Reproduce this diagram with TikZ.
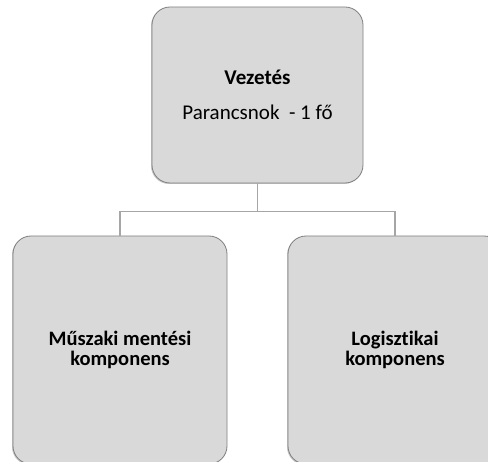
\documentclass[tikz,border=0pt]{standalone}
\usepackage{fontspec}
\setmainfont{Carlito}[Ligatures=NoCommon]
\usetikzlibrary{calc,shadows}
\definecolor{boxfill}{HTML}{D9D9D9}
\definecolor{boxline}{HTML}{7F7F7F}
\definecolor{wirecol}{HTML}{A6A6A6}
\tikzset{unit/.style={draw=boxline, line width=0.8pt, fill=boxfill, rounded corners=18pt,
    align=center, inner sep=0pt, font=\fontsize{20.5}{19.5}\selectfont\bfseries,
    drop shadow={shadow xshift=-1pt, shadow yshift=-1pt, opacity=0.35, fill=black!60}},
  wire/.style={draw=wirecol, line width=1.6pt}}

\begin{document}
\begin{tikzpicture}[x=1pt,y=-1pt]
  \useasboundingbox (0,0) rectangle (488,462);
  \clip (0,0) rectangle (488,462);
  \node[unit, minimum width=211pt, minimum height=176pt] (lead) at (257.5,95)
    {\fontsize{21}{22}\selectfont Vezetés\\[16pt]\fontsize{21}{22}\selectfont\mdseries Parancsnok\ \ - 1 fő};
  \node[unit, minimum width=214pt, minimum height=228pt] (rescue) at (120,350) {Műszaki mentési\\komponens};
  \node[unit, minimum width=214pt, minimum height=228pt] (logi) at (395,350) {Logisztikai\\komponens};
  \coordinate (fork) at ($(lead.south)+(0,28)$);
  \draw[wire] (lead.south) -- (fork) -| (rescue.north);
  \draw[wire] (fork) -| (logi.north);
\end{tikzpicture}
\end{document}
